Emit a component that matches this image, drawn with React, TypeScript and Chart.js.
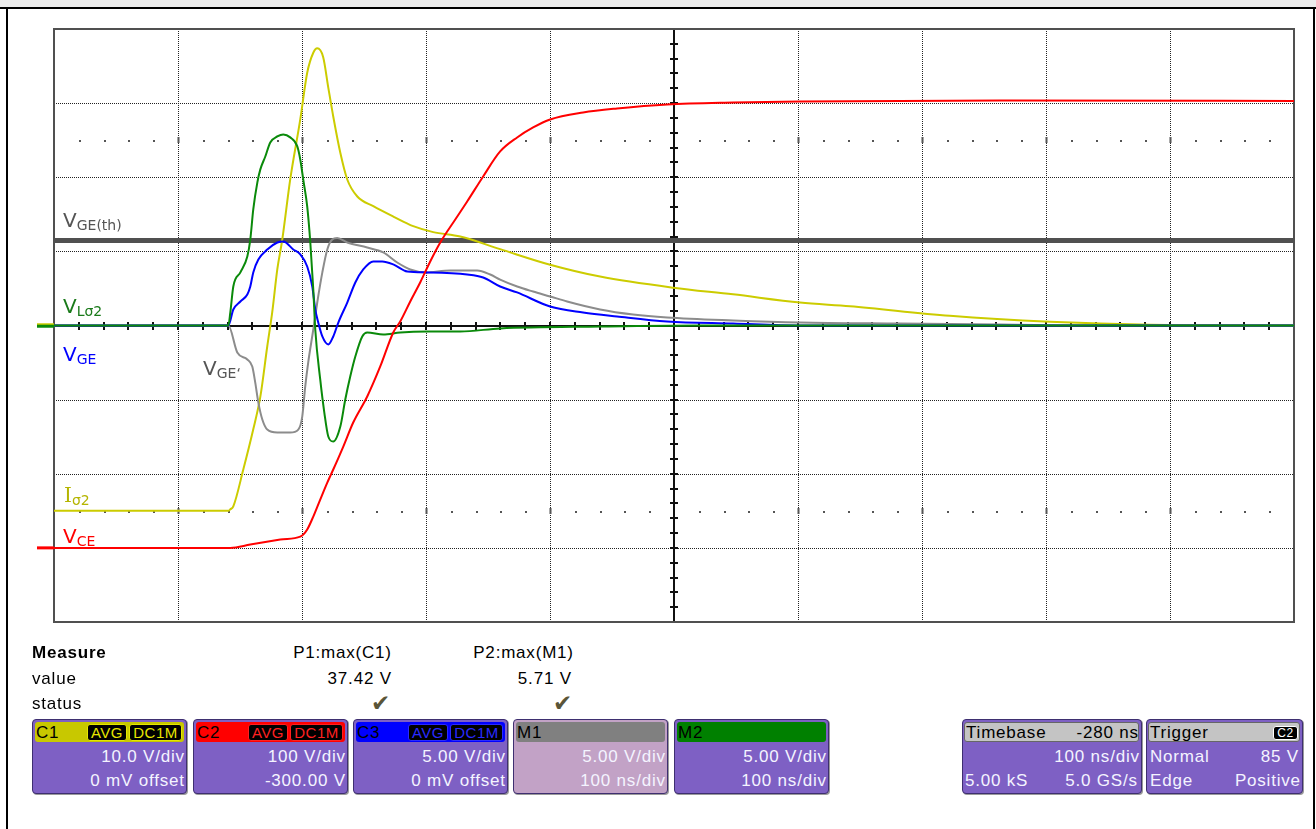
import React, { useEffect, useRef } from 'react';
import { Chart, registerables } from 'chart.js';

Chart.register(...registerables);

const PAGE_W = 1316;
const PAGE_H = 829;
const CANVAS_H = 640;

// ---- Screen grid (10 x 100 ns, 8 divisions vertically) ----
const xGridNs = [0, 100, 200, 300, 400, 500, 600, 700, 800, 900, 1000];
const yGridDiv = [-4, -3, -2, -1, 0, 1, 2, 3, 4];

// ---- Channel settings ----
const c1VoltsPerDiv = 10;
const c1OffsetV = 0;
const c2VoltsPerDiv = 100;
const c2OffsetV = -300;
const c3VoltsPerDiv = 5;
const c3OffsetV = 0;
const m1VoltsPerDiv = 5;
const m2VoltsPerDiv = 5;

// ---- C1 (yellow, I_sigma2) ----
const iSigma2TimeNs = [0, 140.6, 142.2, 144.6, 152.7, 160.7, 166.4, 172.0, 176.0, 180.1, 184.1, 190.5, 198.6, 204.2, 209.1, 212.3, 217.1, 221.2, 225.2, 230.9, 236.5, 244.6, 257.5, 273.6, 289.7, 305.8, 327.6, 359.8, 400.1, 440.4, 499.3, 547.6, 601.6, 641.9, 722.5, 803.1, 883.8, 1000];
const iSigma2Volts = [-25.0, -25.0, -24.8, -24.4, -19.4, -14.0, -9.6, -2.8, 1.8, 7.6, 11.6, 19.7, 27.8, 34.1, 36.8, 37.4, 36.2, 32.1, 28.2, 23.3, 19.7, 17.4, 16.1, 14.7, 13.4, 12.6, 12.0, 10.3, 8.2, 6.6, 5.1, 4.2, 3.1, 2.6, 1.3, 0.5, 0.1, 0];

// ---- C2 (red, V_CE) ----
const vceTimeNs = [0, 142.2, 158.3, 182.5, 198.6, 201.0, 204.2, 209.1, 214.7, 220.4, 225.2, 233.3, 241.3, 252.6, 263.1, 273.6, 279.2, 287.3, 295.3, 303.4, 311.5, 323.6, 333.2, 346.1, 359.8, 373.5, 386.4, 400.1, 426.7, 454.1, 494.4, 547.6, 601.6, 762.8, 1000];
const vceVolts = [0, 0, 4.5, 11.2, 15.2, 17.9, 24.7, 42.2, 65.2, 88.1, 105.7, 136.7, 169.1, 204.2, 244.7, 290.6, 305.4, 332.4, 358.0, 386.4, 412.0, 443.0, 467.3, 501.1, 534.8, 553.7, 567.2, 578.0, 587.4, 592.8, 598.2, 600.9, 602.3, 603.6, 603.0];

// ---- C3 (blue, V_GE) ----
const vgeTimeNs = [0, 140.6, 144.6, 150.3, 155.9, 158.3, 160.7, 164.8, 172.0, 180.1, 184.9, 193.0, 198.6, 204.2, 208.3, 210.7, 213.1, 216.4, 221.2, 225.2, 229.3, 236.5, 243.0, 249.4, 257.5, 264.7, 273.6, 284.9, 301.0, 333.2, 346.1, 359.8, 373.5, 400.1, 426.7, 454.1, 494.4, 547.6, 601.6, 1000];
const vgeVolts = [0, 0, 1.08, 1.62, 2.09, 2.63, 3.58, 4.45, 5.13, 5.60, 5.67, 5.13, 4.79, 3.98, 2.63, 1.08, 0.20, -0.74, -1.28, -0.74, 0.20, 1.55, 2.90, 3.78, 4.32, 4.32, 4.12, 3.64, 3.58, 3.44, 3.24, 2.63, 2.23, 1.28, 0.88, 0.61, 0.27, 0.13, 0, 0];
const vgeThresholdVolts = 5.73;

// ---- M1 (gray, V_GE') ----
const vgePrimeTimeNs = [0, 140.6, 147.8, 155.9, 159.9, 162.3, 164.8, 168.0, 172.0, 180.1, 190.5, 197.0, 200.2, 202.6, 205.0, 209.1, 212.3, 216.4, 220.4, 224.4, 228.4, 236.5, 252.6, 265.5, 276.8, 287.3, 299.3, 319.5, 341.3, 351.8, 359.8, 373.5, 386.4, 400.1, 413.8, 440.4, 467.0, 494.4, 547.6, 601.6, 682.2, 762.8, 843.4, 1000];
const vgePrimeVolts = [0, 0, -1.82, -2.29, -2.77, -3.85, -5.20, -6.34, -7.02, -7.22, -7.22, -7.02, -6.14, -4.12, -2.50, -0.27, 1.55, 3.58, 5.13, 5.80, 5.90, 5.60, 5.26, 4.93, 4.25, 3.78, 3.58, 3.71, 3.71, 3.44, 3.10, 2.63, 2.29, 1.96, 1.62, 1.08, 0.74, 0.54, 0.34, 0.20, 0.13, 0.07, 0, 0];

// ---- M2 (green, V_Lsigma2) ----
const vLsigma2TimeNs = [0, 140.6, 142.2, 144.6, 150.3, 155.9, 158.3, 160.7, 164.0, 166.4, 170.4, 174.4, 180.1, 184.9, 190.5, 196.2, 198.6, 201.0, 204.2, 206.7, 209.1, 210.7, 214.7, 218.0, 221.2, 225.2, 230.9, 234.9, 238.9, 243.0, 248.6, 252.6, 265.5, 279.2, 301.0, 327.6, 359.8, 440.4, 521.0, 1000];
const vLsigma2Volts = [0, 0, 0.88, 2.63, 3.58, 4.66, 5.80, 7.83, 9.65, 10.53, 11.40, 12.35, 12.75, 12.89, 12.69, 12.08, 11.20, 9.85, 8.03, 5.60, 2.43, -0.27, -3.64, -5.87, -7.49, -7.83, -6.82, -4.99, -3.44, -2.09, -0.74, -0.47, -0.61, -0.47, -0.40, -0.40, -0.20, -0.07, 0, 0];

// ---- Readout texts ----
const measureNames = ['P1:max(C1)', 'P2:max(M1)'];
const measureValues = ['37.42 V', '5.71 V'];
const chNames = ['C1', 'C2', 'C3', 'M1', 'M2'];
const chLine1 = ['10.0 V/div', '100 V/div', '5.00 V/div', '5.00 V/div', '5.00 V/div'];
const chLine2 = ['0 mV offset', '-300.00 V', '0 mV offset', '100 ns/div', '100 ns/div'];

const toDiv = (v: number, perDiv: number, offset: number) => (v + offset) / perDiv;
const series = (t: number[], v: number[], perDiv: number, offset: number) =>
  t.map((x, i) => ({ x, y: toDiv(v[i], perDiv, offset) }));

const scopeGrid = {
  id: 'scopeGrid',
  beforeDatasetsDraw(chart: any) {
    const { ctx, chartArea: a, scales } = chart;
    const xs = scales.x;
    const ys = scales.y;
    const line = (x1: number, y1: number, x2: number, y2: number) => {
      ctx.beginPath();
      ctx.moveTo(x1, y1);
      ctx.lineTo(x2, y2);
      ctx.stroke();
    };
    ctx.save();
    ctx.strokeStyle = '#222';
    ctx.lineWidth = 1;
    ctx.setLineDash([1, 1]);
    for (const t of xGridNs) {
      if (t === 0 || t === 500 || t === 1000) continue;
      const px = Math.round(xs.getPixelForValue(t)) + 0.5;
      line(px, a.top, px, a.bottom);
    }
    for (const d of yGridDiv) {
      if (d === 0 || d === 4 || d === -4) continue;
      const py = Math.round(ys.getPixelForValue(d)) + 0.5;
      line(a.left, py, a.right, py);
    }
    ctx.setLineDash([]);
    // minor dot rows
    ctx.fillStyle = '#555';
    for (const d of [2.5, -2.5]) {
      const py = Math.round(ys.getPixelForValue(d));
      for (let i = 1; i < 50; i++) {
        const t = i * 20;
        const px = Math.round(xs.getPixelForValue(t));
        if (t % 100 === 0) {
          if (t !== 500) ctx.fillRect(px - 0.5, py - 3, 2, 6);
          continue;
        }
        ctx.fillRect(px, py, 2, 2);
      }
    }
    // centre cross with ticks
    ctx.strokeStyle = '#111';
    ctx.lineWidth = 2;
    const cx = Math.round(xs.getPixelForValue(500));
    const cy = Math.round(ys.getPixelForValue(0));
    line(cx, a.top, cx, a.bottom);
    line(a.left, cy, a.right, cy);
    for (let i = -20; i <= 20; i++) {
      const py = Math.round(ys.getPixelForValue(i * 0.2));
      line(cx - 4, py, cx + 4, py);
    }
    for (let i = 0; i <= 50; i++) {
      const px = Math.round(xs.getPixelForValue(i * 20));
      line(px, cy - 4, px, cy + 4);
    }
    // border
    ctx.strokeStyle = '#505050';
    ctx.lineWidth = 2;
    ctx.strokeRect(a.left, a.top, a.right - a.left, a.bottom - a.top);
    ctx.restore();
  },
  afterDatasetsDraw(chart: any) {
    const { ctx, chartArea: a, scales } = chart;
    const ys = scales.y;
    ctx.save();
    ctx.lineWidth = 3;
    const stub = (level: number, color: string) => {
      const py = ys.getPixelForValue(level);
      ctx.strokeStyle = color;
      ctx.beginPath();
      ctx.moveTo(a.left - 17, py);
      ctx.lineTo(a.left, py);
      ctx.stroke();
    };
    stub(toDiv(0, c1VoltsPerDiv, c1OffsetV) + 0.01, '#cccc00');
    stub(toDiv(0, m2VoltsPerDiv, 0) - 0.01, '#0a8a0a');
    stub(toDiv(0, c2VoltsPerDiv, c2OffsetV), '#ff0000');
    ctx.restore();
  },
};

function Txt(props: { x: number; base: number; text: string; align?: 'left' | 'right'; size?: number; bold?: boolean; color?: string; spacing?: number; family?: string }) {
  const { x, base, text, align = 'left', size = 17, bold = false, color = '#000', spacing = 0.8, family = '"Liberation Sans", Arial, sans-serif' } = props;
  const style: any = {
    position: 'absolute',
    top: base - 0.905 * size - 1,
    fontSize: size,
    fontFamily: family,
    fontWeight: bold ? 700 : 400,
    color,
    letterSpacing: spacing,
    whiteSpace: 'nowrap',
    lineHeight: 'normal',
  };
  if (align === 'left') style.left = x;
  else style.right = PAGE_W - x - spacing;
  return <div style={style}>{text}</div>;
}

function TraceLabel(props: { x: number; base: number; main: string; sub: string; color: string; serif?: boolean }) {
  const { x, base, main, sub, color, serif } = props;
  return (
    <div style={{ position: 'absolute', left: x, top: base - 0.928 * 20, fontFamily: '"DejaVu Sans", Verdana, sans-serif', fontSize: 20, lineHeight: 'normal', color, whiteSpace: 'nowrap' }}>
      <span style={{ fontFamily: serif ? '"DejaVu Serif", serif' : undefined }}>{main}</span>
      <span style={{ fontSize: 14, position: 'relative', top: 3 }}>{sub}</span>
    </div>
  );
}

function Badge(props: { left: number; width: number; text: string; color: string; top?: number; height?: number; size?: number }) {
  const { left, width, text, color, top = 724, height = 17, size = 15 } = props;
  return (
    <div style={{ position: 'absolute', left, top, width, height, boxSizing: 'border-box', background: '#000', border: `1px solid ${color}`, borderRadius: 3, color, fontFamily: '"Liberation Sans", Arial, sans-serif', fontSize: size, lineHeight: `${height - 2}px`, textAlign: 'center', letterSpacing: 0.5 }}>
      {text}
    </div>
  );
}

const boxBase: any = { position: 'absolute', top: 719, height: 75, boxSizing: 'border-box', border: '1px solid #3e2f70', borderRadius: 4, boxShadow: '1px 1px 0 #9a9a9a' };

function ChannelBox(props: { i: number }) {
  const { i } = props;
  const lefts = [32, 193, 353, 513, 674];
  const heads = ['#c8c800', '#ff0000', '#0000ff', '#808080', '#008000'];
  const badgeCols = ['#e6e600', '#ff2020', '#2a2aff'];
  const x0 = lefts[i];
  const w = 155;
  const isM1 = i === 3;
  return (
    <>
      <div style={{ ...boxBase, left: x0, width: w, background: isM1 ? '#c2a2c6' : '#7e60c4' }} />
      <div style={{ position: 'absolute', left: x0 + 3, top: 722, width: w - 6, height: 20, borderRadius: 3, background: heads[i] }} />
      <Txt x={x0 + 4} base={739} text={chNames[i]} color="#000" />
      {i < 3 && <Badge left={x0 + 55} width={40} text="AVG" color={badgeCols[i]} />}
      {i < 3 && <Badge left={x0 + 97} width={53} text="DC1M" color={badgeCols[i]} />}
      <Txt x={x0 + w - 3} base={763} text={chLine1[i]} align="right" color="#f4f4ff" />
      <Txt x={x0 + w - 3} base={787} text={chLine2[i]} align="right" color="#f4f4ff" />
    </>
  );
}

export default function App() {
  const canvasRef = useRef<HTMLCanvasElement | null>(null);

  useEffect(() => {
    const canvas = canvasRef.current;
    if (!canvas) return;
    const common = { pointRadius: 0, borderWidth: 2, cubicInterpolationMode: 'monotone', fill: false };
    const chart = new Chart(canvas, {
      type: 'line',
      data: {
        datasets: [
          { ...common, label: 'VCE', data: series(vceTimeNs, vceVolts, c2VoltsPerDiv, c2OffsetV), borderColor: '#ff0000' },
          { ...common, label: 'VLσ2', data: series(vLsigma2TimeNs, vLsigma2Volts, m2VoltsPerDiv, 0), borderColor: '#0a8a0a' },
          { ...common, label: 'VGE', data: series(vgeTimeNs, vgeVolts, c3VoltsPerDiv, c3OffsetV), borderColor: '#0000ff' },
          { ...common, label: "VGE'", data: series(vgePrimeTimeNs, vgePrimeVolts, m1VoltsPerDiv, 0), borderColor: '#8c8c8c' },
          { ...common, label: 'Iσ2', data: series(iSigma2TimeNs, iSigma2Volts, c1VoltsPerDiv, c1OffsetV), borderColor: '#cccc00' },
          { ...common, label: 'VGE(th)', data: [{ x: 0, y: toDiv(vgeThresholdVolts, c3VoltsPerDiv, c3OffsetV) }, { x: 1000, y: toDiv(vgeThresholdVolts, c3VoltsPerDiv, c3OffsetV) }], borderColor: '#505050', borderWidth: 5 },
        ],
      },
      options: {
        responsive: false,
        animation: false,
        devicePixelRatio: 1,
        layout: { padding: { left: 54, top: 29, right: PAGE_W - 1294, bottom: CANVAS_H - 622 } },
        plugins: { legend: { display: false }, tooltip: { enabled: false } },
        events: [],
        scales: {
          x: { type: 'linear', min: 0, max: 1000, display: false },
          y: { type: 'linear', min: -4, max: 4, display: false },
        },
      },
      plugins: [scopeGrid],
    } as any);
    return () => chart.destroy();
  }, []);

  return (
    <div style={{ position: 'fixed', left: 0, top: 0, width: PAGE_W, height: PAGE_H, background: '#fff', overflow: 'hidden' }}>
      <canvas ref={canvasRef} width={PAGE_W} height={CANVAS_H} style={{ position: 'absolute', left: 0, top: 0, display: 'block' }} />
      {/* frame */}
      <div style={{ position: 'absolute', left: 0, top: 0, width: PAGE_W, height: 7, background: '#ececec' }} />
      <div style={{ position: 'absolute', left: 0, top: 7, width: PAGE_W, height: 2, background: '#000' }} />
      <div style={{ position: 'absolute', left: 6, top: 7, width: 2, height: PAGE_H, background: '#000' }} />
      <div style={{ position: 'absolute', left: 1313, top: 7, width: 2, height: PAGE_H, background: '#000' }} />

      {/* trace labels */}
      <TraceLabel x={63} base={227} main="V" sub="GE(th)" color="#555555" />
      <TraceLabel x={63} base={313} main="V" sub="Lσ2" color="#1a7a1a" />
      <TraceLabel x={63} base={361} main="V" sub="GE" color="#0000ff" />
      <TraceLabel x={203} base={375} main="V" sub="GE‘" color="#555555" />
      <TraceLabel x={64} base={502} main="I" sub="σ2" color="#b5b500" serif />
      <TraceLabel x={63} base={543} main="V" sub="CE" color="#ff0000" />

      {/* measure table */}
      <Txt x={32} base={659} text="Measure" bold />
      <Txt x={32} base={685} text="value" />
      <Txt x={32} base={710} text="status" />
      <Txt x={391} base={659} text={measureNames[0]} align="right" />
      <Txt x={391} base={685} text={measureValues[0]} align="right" />
      <Txt x={573} base={659} text={measureNames[1]} align="right" />
      <Txt x={571} base={685} text={measureValues[1]} align="right" />
      <Txt x={371} base={712} text="✔" size={23} color="#5a5538" spacing={0} family='"DejaVu Sans", sans-serif' />
      <Txt x={553} base={712} text="✔" size={23} color="#5a5538" spacing={0} family='"DejaVu Sans", sans-serif' />

      {[0, 1, 2, 3, 4].map((i) => (
        <ChannelBox key={i} i={i} />
      ))}

      {/* timebase */}
      <div style={{ ...boxBase, left: 962, width: 180, background: '#7e60c4' }} />
      <div style={{ position: 'absolute', left: 964, top: 722, width: 175, height: 20, boxSizing: 'border-box', borderRadius: 3, background: '#c4c4c4', border: '1px solid #666' }} />
      <Txt x={966} base={739} text="Timebase" />
      <Txt x={1138} base={739} text="-280 ns" align="right" />
      <Txt x={1139} base={763} text="100 ns/div" align="right" color="#f4f4ff" />
      <Txt x={965} base={787} text="5.00 kS" color="#f4f4ff" />
      <Txt x={1137} base={787} text="5.0 GS/s" align="right" color="#f4f4ff" />

      {/* trigger */}
      <div style={{ ...boxBase, left: 1146, width: 157, background: '#7e60c4' }} />
      <div style={{ position: 'absolute', left: 1148, top: 722, width: 152, height: 20, boxSizing: 'border-box', borderRadius: 3, background: '#c4c4c4', border: '1px solid #666' }} />
      <Txt x={1150} base={739} text="Trigger" />
      <Badge left={1273} top={726} width={25} height={14} size={12} text="C2" color="#ffffff" />
      <Txt x={1150} base={763} text="Normal" color="#f4f4ff" />
      <Txt x={1298} base={763} text="85 V" align="right" color="#f4f4ff" />
      <Txt x={1150} base={787} text="Edge" color="#f4f4ff" />
      <Txt x={1300} base={787} text="Positive" align="right" color="#f4f4ff" />
    </div>
  );
}
